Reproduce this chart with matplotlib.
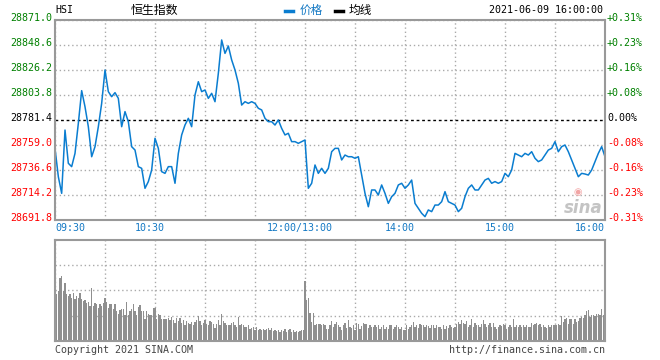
import matplotlib
matplotlib.use('Agg')
import matplotlib.pyplot as plt
from matplotlib.lines import Line2D
import numpy as np

# HSI intraday 2021-06-09
pre_close = 28781.4
price_ticks = [28871.0, 28848.6, 28826.2, 28803.8, 28781.4, 28759.0, 28736.6, 28714.2, 28691.8]
time_labels = ['09:30', '10:30', '12:00/13:00', '14:00', '15:00', '16:00']
time_label_min = [0, 60, 150, 210, 270, 330]

# price every 2 minutes, 09:30 .. 12:00
price_am = [28756.0, 28730.6, 28715.7, 28772.4, 28742.6, 28739.6, 28751.5, 28778.4, 28807.7, 28793.3,
            28775.4, 28748.5, 28757.5, 28775.4, 28796.3, 28826.2, 28806.8, 28802.3, 28805.9, 28800.8,
            28775.4, 28788.9, 28779.9, 28757.5, 28754.5, 28739.6, 28738.1, 28720.2, 28726.2, 28736.6,
            28765.0, 28756.0, 28735.1, 28733.6, 28739.6, 28739.6, 28724.7, 28751.5, 28768.0, 28776.9,
            28782.9, 28775.4,
            28803.8, 28815.7, 28806.8, 28808.3, 28800.8, 28805.3, 28797.8, 28823.2, 28853.1, 28841.1,
            28847.7, 28835.2, 28826.2, 28814.3, 28794.8, 28797.8, 28796.3, 28797.8, 28796.3, 28791.9,
            28790.4, 28782.9, 28779.9, 28779.9, 28776.9, 28781.4, 28773.9, 28768.0, 28769.5, 28762.0,
            28762.0, 28760.5, 28762.0, 28763.5]
# price every 2 minutes, 13:02 .. 16:00
price_pm = [28720.2, 28724.7, 28741.1, 28733.6, 28738.1, 28733.6, 28738.1, 28753.0, 28756.0,
            28756.0, 28745.6, 28750.0, 28748.5, 28748.5, 28747.1, 28748.5, 28732.1, 28715.7, 28703.7,
            28718.7, 28718.7, 28714.2, 28723.2, 28715.7, 28706.7, 28712.7, 28715.7, 28723.2, 28724.7,
            28720.2, 28723.2, 28727.6, 28706.7, 28702.3, 28697.8, 28694.8, 28700.8, 28699.3, 28705.2,
            28705.2, 28708.2, 28717.2, 28708.2, 28706.7, 28705.2, 28699.3, 28702.3, 28712.7, 28720.2,
            28723.2,
            28718.7, 28718.7, 28723.2, 28727.6, 28729.1, 28724.7, 28726.2, 28724.7, 28726.2, 28733.6,
            28730.6, 28736.6, 28751.5, 28750.0, 28748.5, 28751.5, 28750.0, 28753.0, 28747.1, 28744.1,
            28745.6, 28750.0, 28754.5, 28756.0, 28762.0, 28753.0, 28757.5, 28759.0, 28753.0, 28745.6,
            28738.1, 28730.6, 28733.6, 28733.0, 28732.1, 28736.6, 28744.1, 28751.5, 28757.5, 28748.5]

# volume per minute (relative units), 09:31 .. 12:00 and the 13:00 auction
vol_am = [46, 49, 62, 64, 49, 57, 46, 44, 46, 42, 47, 41, 44, 42, 47, 41, 39, 40, 37, 38,
          34, 52, 34, 37, 36, 32, 36, 34, 37, 42, 38, 32, 36, 36, 31, 36, 29, 27, 30, 31,
          31, 26, 38, 26, 29, 31, 36, 29, 26, 33, 35, 29, 29, 22, 29, 27, 26, 26, 32, 32,
          22, 27, 26, 22, 22, 22, 22, 23, 21, 24, 21, 18, 23, 20, 23, 18, 21, 16, 20, 18,
          17, 19, 16, 19, 21, 25, 20, 16, 18, 21, 17, 16, 20, 19, 17, 13, 17, 21, 16, 27,
          20, 18, 16, 16, 16, 18, 19, 16, 14, 24, 16, 17, 16, 14, 14, 16, 12, 13, 14, 11,
          14, 11, 12, 11, 12, 11, 12, 13, 11, 13, 10, 11, 10, 11, 9, 11, 10, 12, 9, 11,
          12, 9, 11, 9, 10, 9, 10, 11, 11, 59]
# volume per minute, 13:01 .. 16:00
vol_pm = [40, 42, 28, 19, 28, 16, 17, 17, 17, 16, 17, 16, 12, 12,
          16, 20, 14, 17, 19, 16, 14, 11, 16, 18, 13, 21, 14, 13, 16, 11, 18, 17, 12, 15,
          18, 17, 17, 13, 16, 14, 14, 16, 14, 16, 12, 14, 16, 12, 14, 12, 16, 16, 12, 14,
          16, 14, 12, 14, 11, 11, 16, 12, 14, 16, 19, 14, 16, 13, 17, 16, 16, 14, 16, 15,
          13, 16, 16, 13, 16, 14, 14, 12, 16, 12, 15, 13, 16, 14, 13, 14, 17, 19, 17, 21,
          18, 17, 20, 14, 16, 22, 14, 18, 16, 16, 14, 17, 21, 17, 14, 16, 18, 14, 18, 14,
          12, 14, 16, 15, 17, 16, 12, 14, 16, 14, 22, 14, 16, 14, 16, 14, 16, 14, 16, 14,
          14, 18, 16, 17, 18, 16, 17, 14, 16, 14, 13, 16, 14, 16, 16, 16, 16, 17, 16, 25,
          19, 22, 23, 17, 22, 22, 17, 22, 19, 20, 23, 24, 23, 26, 29, 30, 24, 26, 26, 25,
          27, 27, 26, 31, 26, 37]

prices = price_am + price_pm
minutes = np.arange(0, 331, 2)
volumes = vol_am + vol_pm
vol_minutes = np.arange(1, 331)

W, H = 660, 360
fig = plt.figure(figsize=(6.6, 3.6), dpi=100)
ax = fig.add_axes([55 / W, 1 - 220 / H, 550 / W, 200 / H])
vax = fig.add_axes([55 / W, 1 - 340.7 / H, 550 / W, 100.7 / H])

mono = 'DejaVu Sans Mono'
cjk = ['Noto Sans CJK SC', 'DejaVu Sans']
line_blue = '#0a7dd0'
label_blue = '#1479c4'
grid_kw = dict(color='#aaaaaa', linestyle=(0, (1, 2)), linewidth=1)

for a in (ax, vax):
    a.set_xlim(0, 330)
    a.set_xticks(range(0, 331, 30))
    for s in a.spines.values():
        s.set_color('#999999')
        s.set_linewidth(1.5)
    a.tick_params(length=0, labelleft=False, labelbottom=False)
    a.grid(True, **grid_kw)
    a.set_axisbelow(True)

# price panel
ax.set_ylim(price_ticks[-1], price_ticks[0])
ax.set_yticks([p for p in price_ticks if p != pre_close])
ax.axhline(pre_close, color='black', linestyle=(0, (2, 2)), linewidth=1)
ax.plot(minutes, prices, color=line_blue, linewidth=1.1)

for p in price_ticks:
    if p > pre_close:
        c = '#008000'
    elif p < pre_close:
        c = '#ff0000'
    else:
        c = 'black'
    pct = (p - pre_close) / pre_close * 100
    ptxt = '%+.2f%%' % pct if abs(pct) >= 0.005 else '0.00%'
    ax.annotate('%.1f' % p, xy=(0, p), xycoords=('axes fraction', 'data'),
                xytext=(-3, 2), textcoords='offset pixels', ha='right', va='center',
                color=c, fontsize=7.2, family=mono)
    ax.annotate(ptxt, xy=(1, p), xycoords=('axes fraction', 'data'),
                xytext=(2, 2), textcoords='offset pixels', ha='left', va='center',
                color=c, fontsize=7.2, family=mono)

for m, t in zip(time_label_min, time_labels):
    ha = 'center'
    dx = -5
    if m == 0:
        ha, dx = 'left', 0
    if m == 330:
        ha, dx = 'right', 0
    ax.annotate(t, xy=(m, 0), xycoords=('data', 'axes fraction'),
                xytext=(dx, -3), textcoords='offset pixels', ha=ha, va='top',
                color=label_blue, fontsize=7.2, family=mono)

# volume panel
vax.set_ylim(0, 100)
vax.set_yticks([25, 50, 75])
vax.bar(vol_minutes, volumes, width=0.75, color='#8f8f8f', linewidth=0)

# header
fig.text(55 / W, 1 - 10 / H, 'HSI', fontsize=7.2, family=mono, va='center', ha='left')
fig.text(154 / W, 1 - 10 / H, '恒生指数', fontsize=8.6, family=cjk, va='center', ha='center')
fig.add_artist(Line2D([285 / W, 293 / W], [1 - 11 / H, 1 - 11 / H], color=line_blue, linewidth=2.5))
fig.text(300 / W, 1 - 10 / H, '价格', fontsize=8.4, family=cjk, va='center', ha='left', color=label_blue)
fig.add_artist(Line2D([335 / W, 343 / W], [1 - 11 / H, 1 - 11 / H], color='black', linewidth=2.5))
fig.text(349 / W, 1 - 10 / H, '均线', fontsize=8.4, family=cjk, va='center', ha='left')
fig.text(603 / W, 1 - 10 / H, '2021-06-09 16:00:00', fontsize=7.2, family=mono, va='center', ha='right')

# footer
fig.text(55 / W, 1 - 350 / H, 'Copyright 2021 SINA.COM', fontsize=7.2, family=mono,
         va='center', ha='left', color='#444444')
fig.text(605 / W, 1 - 350 / H, 'http://finance.sina.com.cn', fontsize=7.2, family=mono,
         va='center', ha='right', color='#444444')

# sina watermark
fig.text(583 / W, 1 - 208 / H, 'sina', fontsize=12, style='italic', weight='bold',
         color='#c4c4c4', ha='center', va='center')
fig.text(578 / W, 1 - 192 / H, '◉', fontsize=7, color='#f2a5a5', ha='center', va='center')

fig.savefig('out.png', dpi=100)
